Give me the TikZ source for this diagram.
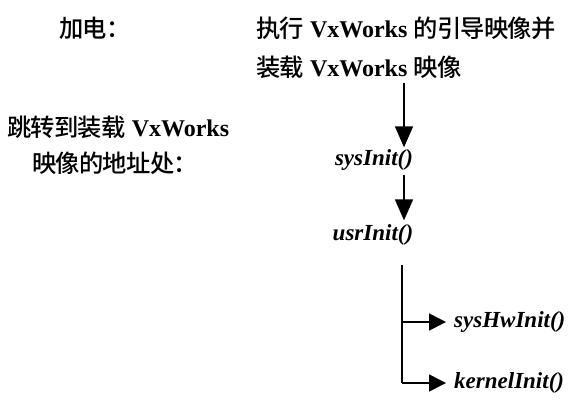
\documentclass[tikz,border=0pt]{standalone}
\usepackage{fontspec}
\setmainfont{Liberation Serif}
\newfontfamily\cjk{Noto Sans CJK SC}[UprightFont=* Medium,Scale=1.08,LetterSpace=-3]
\newcommand\vxw{{\bfseries\fontsize{24}{27}\selectfont VxWorks}}
\usetikzlibrary{arrows.meta}

\begin{document}
\begin{tikzpicture}[x=1pt,y=-1pt,
    lbl/.style={inner sep=0pt,font=\fontsize{22.5}{27}\selectfont},
    fn/.style={inner sep=0pt,font=\fontsize{23}{27}\selectfont\bfseries\itshape},
    flow/.style={line width=1.6pt,-{Triangle[width=18pt,length=21pt]}},
    branch/.style={line width=1.6pt,-{Triangle[width=17pt,length=17pt]}}]
        \useasboundingbox (0,0) rectangle (580,408);
        % texts on the left
        \node[lbl,anchor=west] (power) at (59,28) {{\cjk 加电：}};
        \node[lbl,anchor=west] (jump1) at (7,127) {{\cjk 跳转到装载}\hspace{6pt}\vxw};
        \node[lbl,anchor=west] (jump2) at (32,163) {{\cjk 映像的地址处：}};
        % boot steps
        \node[lbl,anchor=west] (boot1) at (256,28) {{\cjk 执行}\hspace{6pt}\vxw\hspace{6pt}{\cjk 的引导映像并}};
        \node[lbl,anchor=west] (boot2) at (256,67) {{\cjk 装载}\hspace{6pt}\vxw\hspace{6pt}{\cjk 映像}};
        \node[fn] (sysinit) at (374,160) {sysInit()};
        \node[fn] (usrinit) at (373,235) {usrInit()};
        \node[fn,anchor=west] (syshw) at (454,322) {sysHwInit()};
        \node[fn,anchor=west] (kernel) at (454,383) {kernelInit()};
        \coordinate (spine) at (404,0);
        \coordinate (fork) at (402,265);
        \draw[flow] (boot2.south -| spine) ++(0,4) -- ([yshift=2pt]sysinit.north -| spine);
        \draw[flow] ([yshift=-4pt]sysinit.south -| spine) -- ([yshift=4pt]usrinit.north -| spine);
        \draw[line width=1.6pt] (fork) -- (fork |- kernel.west);
        \draw[branch,shorten >=8pt] (fork |- syshw.west) -- (syshw.west);
        \draw[branch,shorten >=8pt] (fork |- kernel.west) -- (kernel.west);
    \end{tikzpicture}
\end{document}
